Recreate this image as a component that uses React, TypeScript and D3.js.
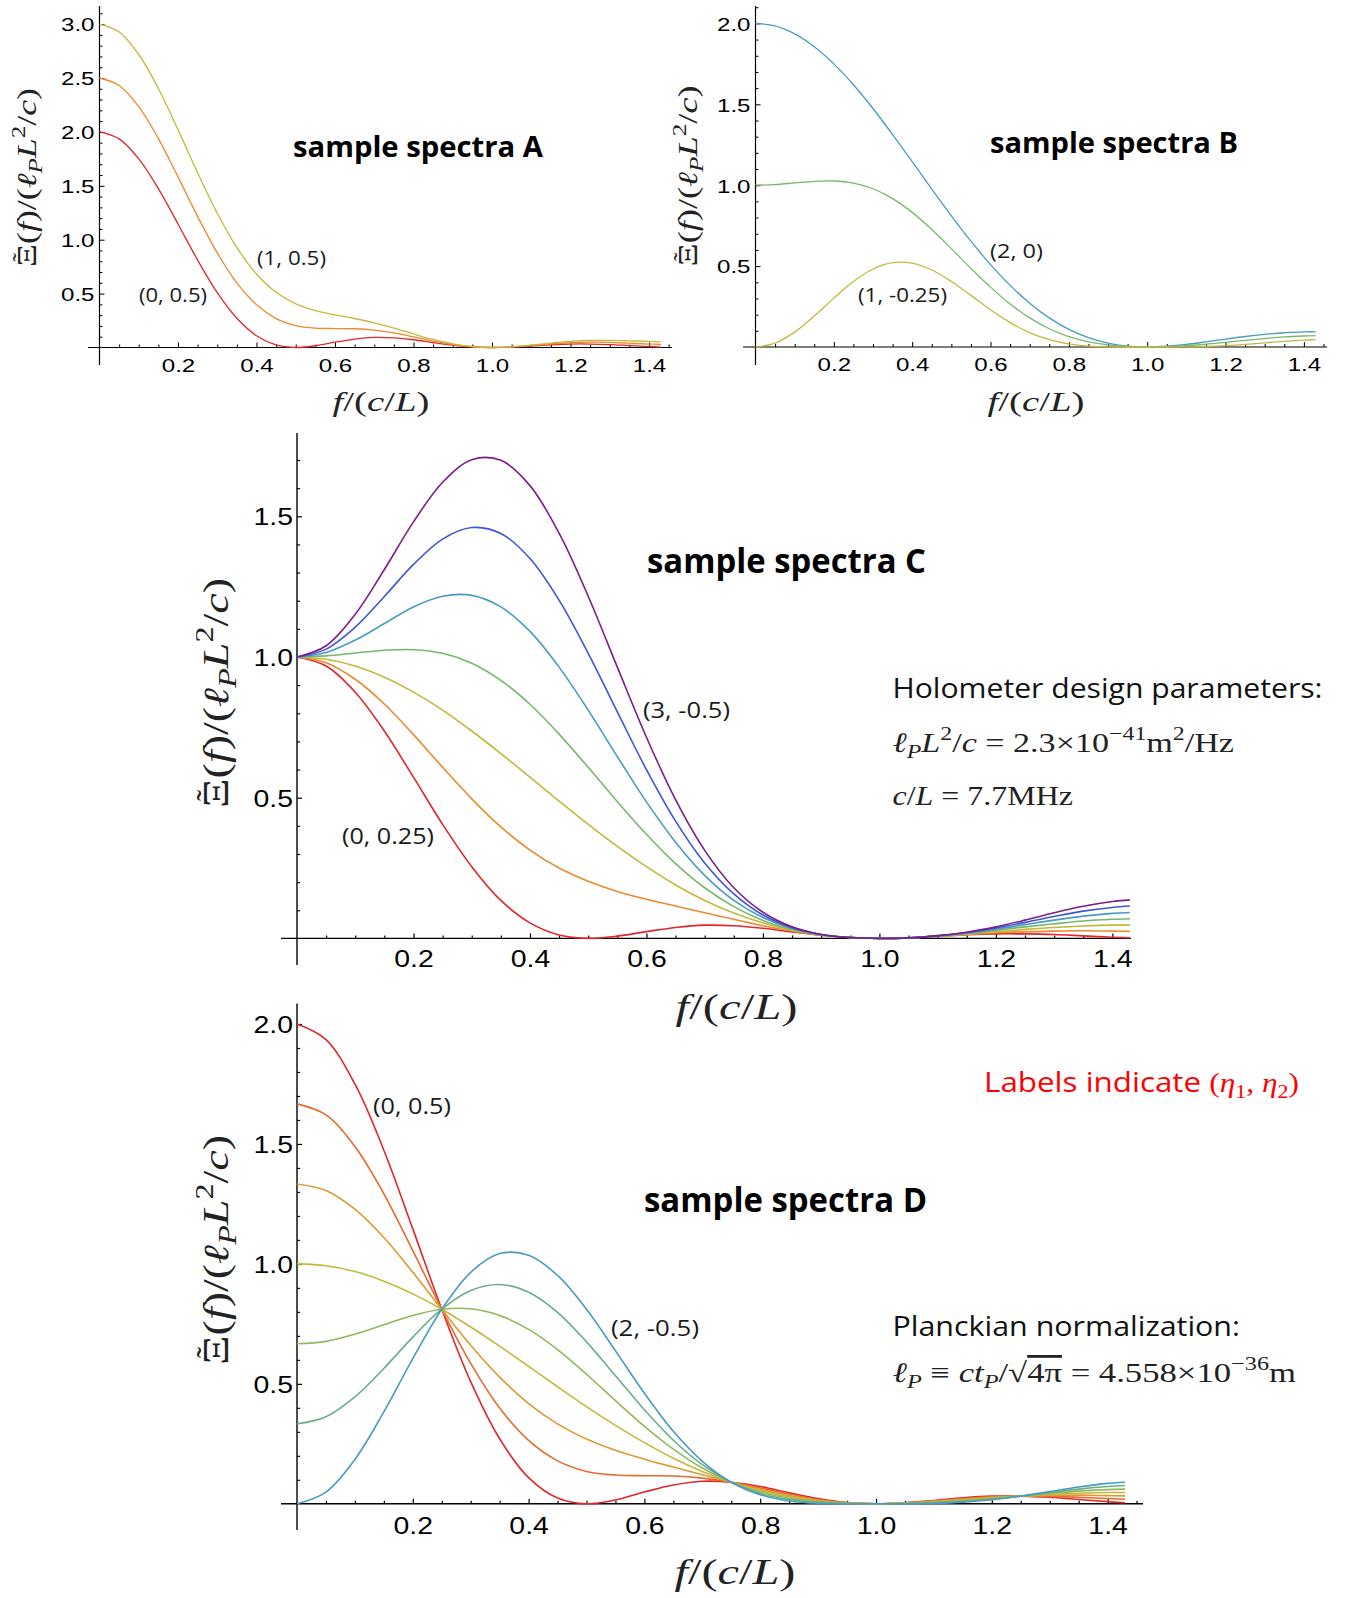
import React, { useEffect, useRef } from 'react';
import * as d3 from 'd3';

const W = 1351;
const H = 1598;

// frequency samples, f / (c/L)
const FREQ = [0, 0.05, 0.1, 0.15, 0.2, 0.25, 0.3, 0.35, 0.4, 0.45, 0.5, 0.55, 0.6, 0.65, 0.7,
  0.75, 0.8, 0.85, 0.9, 0.95, 1.0, 1.05, 1.1, 1.15, 1.2, 1.25, 1.3, 1.35, 1.4, 1.43];

// sample spectra A  (eta1, eta2) = (0,0.5) (0.5,0.5) (1,0.5)
const A_0 = [2.000, 1.935, 1.750, 1.474, 1.146, 0.811, 0.509, 0.271, 0.109, 0.024, 0.000, 0.016, 0.049, 0.078, 0.094,
  0.090, 0.072, 0.046, 0.022, 0.005, 0.000, 0.004, 0.014, 0.025, 0.032, 0.032, 0.027, 0.018, 0.009, 0.004];
const A_05 = [2.500, 2.431, 2.234, 1.938, 1.583, 1.216, 0.878, 0.599, 0.396, 0.268, 0.203, 0.179, 0.176, 0.174, 0.161,
  0.135, 0.099, 0.060, 0.028, 0.007, 0.000, 0.006, 0.018, 0.033, 0.044, 0.049, 0.047, 0.040, 0.032, 0.028];
const A_1 = [3.000, 2.927, 2.718, 2.402, 2.021, 1.621, 1.246, 0.927, 0.682, 0.512, 0.405, 0.343, 0.303, 0.269, 0.229,
  0.180, 0.126, 0.075, 0.034, 0.008, 0.000, 0.007, 0.022, 0.041, 0.056, 0.065, 0.066, 0.062, 0.056, 0.052];

// sample spectra B  (2,0) (1.5,-0.125) (1,-0.25)
const B_2 = [2.000, 1.984, 1.935, 1.856, 1.750, 1.621, 1.474, 1.313, 1.146, 0.976, 0.811, 0.654, 0.509, 0.381, 0.271,
  0.180, 0.109, 0.058, 0.024, 0.006, 0.000, 0.005, 0.016, 0.032, 0.049, 0.065, 0.078, 0.088, 0.094, 0.094];
const B_15 = [1.000, 1.004, 1.014, 1.024, 1.026, 1.013, 0.978, 0.917, 0.832, 0.726, 0.608, 0.486, 0.370, 0.266, 0.180,
  0.113, 0.064, 0.032, 0.013, 0.003, 0.000, 0.002, 0.008, 0.017, 0.029, 0.041, 0.052, 0.062, 0.068, 0.070];
const B_1 = [0.000, 0.024, 0.092, 0.191, 0.302, 0.405, 0.482, 0.521, 0.518, 0.476, 0.405, 0.319, 0.230, 0.151, 0.089,
  0.045, 0.019, 0.006, 0.001, 0.000, 0.000, 0.000, 0.001, 0.003, 0.008, 0.016, 0.026, 0.035, 0.042, 0.045];

// sample spectra C  (0,0.25) ... (3,-0.5)
const C_0 = [1.000, 0.968, 0.875, 0.737, 0.573, 0.405, 0.255, 0.135, 0.055, 0.012, 0.000, 0.008, 0.024, 0.039, 0.047,
  0.045, 0.036, 0.023, 0.011, 0.003, 0.000, 0.002, 0.007, 0.013, 0.016, 0.016, 0.014, 0.009, 0.004, 0.002];
const C_05 = [1.000, 0.980, 0.921, 0.833, 0.724, 0.608, 0.496, 0.396, 0.314, 0.250, 0.203, 0.167, 0.139, 0.115, 0.091,
  0.068, 0.045, 0.026, 0.011, 0.003, 0.000, 0.002, 0.008, 0.014, 0.020, 0.024, 0.026, 0.027, 0.026, 0.025];
const C_1 = [1.000, 0.992, 0.968, 0.928, 0.875, 0.811, 0.737, 0.657, 0.573, 0.488, 0.405, 0.327, 0.255, 0.190, 0.135,
  0.090, 0.055, 0.029, 0.012, 0.003, 0.000, 0.002, 0.008, 0.016, 0.024, 0.032, 0.039, 0.044, 0.047, 0.047];
const C_15 = [1.000, 1.004, 1.014, 1.024, 1.026, 1.013, 0.978, 0.917, 0.832, 0.726, 0.608, 0.486, 0.370, 0.266, 0.180,
  0.113, 0.064, 0.032, 0.013, 0.003, 0.000, 0.002, 0.008, 0.017, 0.029, 0.041, 0.052, 0.062, 0.068, 0.070];
const C_2 = [1.000, 1.016, 1.060, 1.119, 1.178, 1.216, 1.219, 1.178, 1.091, 0.964, 0.811, 0.646, 0.485, 0.342, 0.224,
  0.135, 0.074, 0.035, 0.013, 0.003, 0.000, 0.002, 0.009, 0.019, 0.033, 0.049, 0.065, 0.079, 0.089, 0.092];
const C_25 = [1.000, 1.028, 1.106, 1.215, 1.329, 1.419, 1.460, 1.439, 1.350, 1.202, 1.013, 0.805, 0.600, 0.417, 0.268,
  0.158, 0.083, 0.038, 0.014, 0.003, 0.000, 0.002, 0.009, 0.021, 0.037, 0.057, 0.078, 0.097, 0.110, 0.115];
const C_3 = [1.000, 1.040, 1.152, 1.311, 1.480, 1.621, 1.701, 1.699, 1.609, 1.440, 1.216, 0.964, 0.715, 0.493, 0.313,
  0.180, 0.093, 0.041, 0.014, 0.003, 0.000, 0.002, 0.010, 0.022, 0.041, 0.065, 0.091, 0.114, 0.131, 0.137];

// sample spectra D  (0,0.5) ... (2,-0.5)
const D_0 = [2.000, 1.935, 1.750, 1.474, 1.146, 0.811, 0.509, 0.271, 0.109, 0.024, 0.000, 0.016, 0.049, 0.078, 0.094,
  0.090, 0.072, 0.046, 0.022, 0.005, 0.000, 0.004, 0.014, 0.025, 0.032, 0.032, 0.027, 0.018, 0.009, 0.004];
const D_1 = [1.667, 1.621, 1.489, 1.292, 1.055, 0.811, 0.585, 0.399, 0.264, 0.179, 0.135, 0.120, 0.117, 0.116, 0.107,
  0.090, 0.066, 0.040, 0.018, 0.004, 0.000, 0.004, 0.012, 0.022, 0.029, 0.032, 0.031, 0.027, 0.022, 0.019];
const D_2 = [1.333, 1.306, 1.228, 1.110, 0.965, 0.811, 0.661, 0.528, 0.418, 0.333, 0.270, 0.223, 0.186, 0.153, 0.121,
  0.090, 0.060, 0.035, 0.015, 0.004, 0.000, 0.003, 0.010, 0.019, 0.027, 0.032, 0.035, 0.036, 0.034, 0.033];
const D_3 = [1.000, 0.992, 0.968, 0.928, 0.875, 0.811, 0.737, 0.657, 0.573, 0.488, 0.405, 0.327, 0.255, 0.190, 0.135,
  0.090, 0.055, 0.029, 0.012, 0.003, 0.000, 0.002, 0.008, 0.016, 0.024, 0.032, 0.039, 0.044, 0.047, 0.047];
const D_4 = [0.667, 0.677, 0.707, 0.746, 0.785, 0.811, 0.813, 0.785, 0.727, 0.643, 0.540, 0.430, 0.323, 0.228, 0.149,
  0.090, 0.049, 0.023, 0.009, 0.002, 0.000, 0.002, 0.006, 0.013, 0.022, 0.032, 0.043, 0.053, 0.059, 0.061];
const D_5 = [0.333, 0.363, 0.446, 0.564, 0.695, 0.811, 0.889, 0.914, 0.882, 0.798, 0.675, 0.534, 0.392, 0.265, 0.163,
  0.090, 0.043, 0.018, 0.006, 0.001, 0.000, 0.001, 0.004, 0.010, 0.019, 0.032, 0.047, 0.061, 0.072, 0.076];
const D_6 = [0.000, 0.049, 0.185, 0.383, 0.605, 0.811, 0.965, 1.043, 1.036, 0.952, 0.811, 0.638, 0.461, 0.302, 0.177,
  0.090, 0.038, 0.012, 0.002, 0.000, 0.000, 0.000, 0.002, 0.007, 0.017, 0.032, 0.051, 0.070, 0.085, 0.090];

// eta1 of each curve (sets its colour)
const ETA1_A = [0, 0.5, 1];
const ETA1_B = [2, 1.5, 1];
const ETA1_C = [0, 0.5, 1, 1.5, 2, 2.5, 3];
const ETA1_D = [0, 1 / 3, 2 / 3, 1, 4 / 3, 5 / 3, 2];

// tick labels
const X_TICKS = [0.2, 0.4, 0.6, 0.8, 1.0, 1.2, 1.4];
const Y_TICKS_A = [0.5, 1.0, 1.5, 2.0, 2.5, 3.0];
const Y_TICKS_B = [0.5, 1.0, 1.5, 2.0];
const Y_TICKS_C = [0.5, 1.0, 1.5];
const Y_TICKS_D = [0.5, 1.0, 1.5, 2.0];

// rainbow palette along eta1
const ETA_STOPS = [0, 0.5, 1, 1.5, 2, 2.5, 3];
const RAINBOW = ['#e2262a', '#eb8a2e', '#c4b83c', '#78b86c', '#4a9bc0', '#3f55d8', '#7a1e8a'];
const rainbow = d3.scaleLinear<string>().domain(ETA_STOPS).range(RAINBOW).interpolate(d3.interpolateRgb);

const SANS = "'Open Sans', 'Noto Sans', sans-serif";
const TICKFONT = "'Liberation Sans', Arial, sans-serif";
const SERIF = "'Liberation Serif', 'DejaVu Serif', serif";

const zip = (etas, series) => etas.map((e, i) => ({ eta1: e, v: series[i] }));

const PANELS = [
  {
    id: 'A', curves: zip(ETA1_A, [A_0, A_05, A_1]), yTicks: Y_TICKS_A,
    x0: 99.5, kx: 392.5, y0: 347.5, ky: 107.8, top: 6, left: 88, right: 672, bottom: 365,
    tickFs: 19, tickW: 33.5, xLabDy: 24, yLabDx: 5, lw: 1.3, aw: 1.2,
    title: { x: 293, y: 157, w: 250, fs: 28 },
    yLab: { x: 36, y: 177.5, w: 179, fs: 27 },
    xLab: { x: 381, y: 411, w: 97, fs: 27 },
    notes: [{ t: '(1, 0.5)', x: 257, y: 265, w: 69, fs: 20 }, { t: '(0, 0.5)', x: 139, y: 302, w: 68, fs: 20 }],
  },
  {
    id: 'B', curves: zip(ETA1_B, [B_2, B_15, B_1]), yTicks: Y_TICKS_B,
    x0: 755.5, kx: 391.7, y0: 347, ky: 161.8, top: 6, left: 743, right: 1327, bottom: 365,
    tickFs: 19, tickW: 33.5, xLabDy: 24, yLabDx: 5, lw: 1.3, aw: 1.2,
    title: { x: 990, y: 153, w: 248, fs: 28 },
    yLab: { x: 697, y: 176, w: 181, fs: 27 },
    xLab: { x: 1036, y: 411, w: 97, fs: 27 },
    notes: [{ t: '(2, 0)', x: 990, y: 258, w: 53, fs: 20 }, { t: '(1, -0.25)', x: 858, y: 302, w: 89, fs: 20 }],
  },
  {
    id: 'C', curves: zip(ETA1_C, [C_0, C_05, C_1, C_15, C_2, C_25, C_3]), yTicks: Y_TICKS_C,
    x0: 297, kx: 582.4, y0: 938.4, ky: 281.4, top: 433, left: 281, right: 1131, bottom: 965,
    tickFs: 23.5, tickW: 39.5, xLabDy: 29, yLabDx: 4, lw: 1.6, aw: 1.4,
    title: { x: 647, y: 573, w: 279, fs: 34 },
    yLab: { x: 228, y: 693, w: 230, fs: 35 },
    xLab: { x: 736.6, y: 1019, w: 122, fs: 35 },
    notes: [{ t: '(3, -0.5)', x: 643, y: 718, w: 87, fs: 22.5 }, { t: '(0, 0.25)', x: 342, y: 844, w: 92, fs: 22.5 }],
  },
  {
    id: 'D', curves: zip(ETA1_D, [D_0, D_1, D_2, D_3, D_4, D_5, D_6]), yTicks: Y_TICKS_D,
    x0: 297, kx: 579, y0: 1503.8, ky: 239.9, top: 1003.6, left: 281, right: 1143, bottom: 1530,
    tickFs: 23.5, tickW: 39.5, xLabDy: 30, yLabDx: 4, lw: 1.6, aw: 1.4,
    title: { x: 644, y: 1212, w: 283, fs: 34 },
    yLab: { x: 228, y: 1250, w: 230, fs: 35 },
    xLab: { x: 735, y: 1584, w: 121, fs: 35 },
    notes: [{ t: '(0, 0.5)', x: 373, y: 1114, w: 78, fs: 22.5 }, { t: '(2, -0.5)', x: 611, y: 1336, w: 88, fs: 22.5 }],
  },
];

// runs of math text: i = italic, sub / sup = shifted small, over = overline
function addRuns(text, runs, fs) {
  let shift = 0;
  runs.forEach((r) => {
    const target = r.sub ? 0.22 * fs : r.sup ? -0.42 * fs : 0;
    const ts = text.append('tspan').text(r.t);
    if (target !== shift) {
      ts.attr('dy', target - shift);
      shift = target;
    }
    if (r.sub || r.sup) ts.attr('font-size', 0.7 * fs);
    if (r.i) ts.attr('font-style', 'italic');
    if (r.font) ts.attr('font-family', r.font);
    if (r.over) ts.style('text-decoration', 'overline');
  });
}

const Y_LABEL_RUNS = [
  { t: 'Ξ' }, { t: '(' }, { t: 'f', i: true }, { t: ')/(' }, { t: 'ℓ', i: true }, { t: 'P', i: true, sub: true },
  { t: 'L', i: true }, { t: '2', sup: true }, { t: '/' }, { t: 'c', i: true }, { t: ')' },
];
const X_LABEL_RUNS = [{ t: 'f', i: true }, { t: '/(' }, { t: 'c', i: true }, { t: '/' }, { t: 'L', i: true }, { t: ')' }];

function drawPanel(svg, p) {
  const x = d3.scaleLinear().domain([0, 1]).range([p.x0, p.x0 + p.kx]);
  const y = d3.scaleLinear().domain([0, 1]).range([p.y0, p.y0 - p.ky]);
  const g = svg.append('g').attr('class', `panel panel-${p.id}`);
  const fMax = x.invert(p.right);
  const vMax = y.invert(p.top);

  // axis lines, Mathematica style (crossing past the origin)
  g.append('line').attr('x1', p.left).attr('x2', p.right).attr('y1', p.y0).attr('y2', p.y0)
    .attr('stroke', '#000').attr('stroke-width', p.aw);
  g.append('line').attr('x1', p.x0).attr('x2', p.x0).attr('y1', p.top).attr('y2', p.bottom)
    .attr('stroke', '#000').attr('stroke-width', p.aw);

  const minorX = d3.range(0.05, fMax, 0.05).filter((v) => !X_TICKS.some((t) => Math.abs(t - v) < 1e-6));
  const minorY = d3.range(0.1, vMax, 0.1).filter((v) => !p.yTicks.some((t) => Math.abs(t - v) < 1e-6));

  const xMinor = g.append('g').attr('transform', `translate(0, ${p.y0})`)
    .call(d3.axisBottom(x).tickValues(minorX).tickSizeInner(-3).tickSizeOuter(0).tickFormat(() => ''));
  const xMajor = g.append('g').attr('transform', `translate(0, ${p.y0})`)
    .call(d3.axisBottom(x).tickValues(X_TICKS).tickSizeInner(-5).tickSizeOuter(0).tickFormat(d3.format('.1f')));
  const yMinor = g.append('g').attr('transform', `translate(${p.x0}, 0)`)
    .call(d3.axisLeft(y).tickValues(minorY).tickSizeInner(-3).tickSizeOuter(0).tickFormat(() => ''));
  const yMajor = g.append('g').attr('transform', `translate(${p.x0}, 0)`)
    .call(d3.axisLeft(y).tickValues(p.yTicks).tickSizeInner(-5).tickSizeOuter(0).tickPadding(p.yLabDx).tickFormat(d3.format('.1f')));

  [xMinor, xMajor, yMinor, yMajor].forEach((a) => {
    a.select('.domain').remove();
    a.selectAll('.tick line').attr('stroke', '#000').attr('stroke-width', p.aw * 0.85);
  });
  xMajor.selectAll('.tick text')
    .attr('y', p.xLabDy).attr('dy', null)
    .attr('font-family', TICKFONT).attr('font-size', p.tickFs).attr('fill', '#000')
    .attr('textLength', p.tickW).attr('lengthAdjust', 'spacingAndGlyphs');
  yMajor.selectAll('.tick text')
    .attr('dy', '0.36em')
    .attr('font-family', TICKFONT).attr('font-size', p.tickFs).attr('fill', '#000')
    .attr('textLength', p.tickW).attr('lengthAdjust', 'spacingAndGlyphs');

  // spectra
  const line = d3.line<number>()
    .x((_, i) => x(FREQ[i]))
    .y((d) => y(d))
    .curve(d3.curveCatmullRom.alpha(0.5));
  g.selectAll('path.curve')
    .data(p.curves)
    .join('path')
    .attr('class', 'curve')
    .attr('d', (c) => line(c.v))
    .attr('fill', 'none')
    .attr('stroke', (c) => rainbow(c.eta1))
    .attr('stroke-width', p.lw);

  // title
  g.append('text')
    .attr('x', p.title.x).attr('y', p.title.y)
    .attr('font-family', SANS).attr('font-weight', 700).attr('font-size', p.title.fs)
    .attr('textLength', p.title.w).attr('lengthAdjust', 'spacingAndGlyphs')
    .text(`sample spectra ${p.id}`);

  // curve labels
  p.notes.forEach((n) => {
    g.append('text')
      .attr('x', n.x).attr('y', n.y)
      .attr('font-family', SANS).attr('font-size', n.fs).attr('fill', '#1a1a1a')
      .attr('textLength', n.w).attr('lengthAdjust', 'spacingAndGlyphs')
      .text(n.t);
  });

  // y axis title, rotated, with a tilde over the Xi
  const fs = p.yLab.fs;
  const yg = g.append('g').attr('transform', `translate(${p.yLab.x}, ${p.yLab.y}) rotate(-90)`);
  const yl = yg.append('text')
    .attr('x', -p.yLab.w / 2).attr('y', 0)
    .attr('font-family', SERIF).attr('font-size', fs).attr('fill', '#222')
    .attr('textLength', p.yLab.w).attr('lengthAdjust', 'spacingAndGlyphs');
  addRuns(yl, Y_LABEL_RUNS, fs);
  yg.append('text')
    .attr('x', -p.yLab.w / 2 + 0.36 * fs).attr('y', -0.22 * fs)
    .attr('text-anchor', 'middle')
    .attr('font-family', SERIF).attr('font-size', fs * 0.95).attr('fill', '#222')
    .text('˜');

  const xl = g.append('text')
    .attr('x', p.xLab.x).attr('y', p.xLab.y)
    .attr('text-anchor', 'middle')
    .attr('font-family', SERIF).attr('font-size', p.xLab.fs).attr('fill', '#222')
    .attr('textLength', p.xLab.w).attr('lengthAdjust', 'spacingAndGlyphs');
  addRuns(xl, X_LABEL_RUNS, p.xLab.fs);
}

const SIDE_NOTES = [
  { x: 892.5, y: 698, w: 430, fs: 28, font: SANS, fill: '#111', runs: [{ t: 'Holometer design parameters:' }] },
  {
    x: 892.5, y: 752, w: 341.5, fs: 28, font: SERIF, fill: '#222', runs: [
      { t: 'ℓ', i: true }, { t: 'P', i: true, sub: true }, { t: 'L', i: true }, { t: '2', sup: true }, { t: '/' },
      { t: 'c', i: true }, { t: ' = 2.3×10' }, { t: '−41', sup: true }, { t: 'm' }, { t: '2', sup: true }, { t: '/Hz' },
    ],
  },
  {
    x: 892.5, y: 805, w: 180.5, fs: 28, font: SERIF, fill: '#222', runs: [
      { t: 'c', i: true }, { t: '/' }, { t: 'L', i: true }, { t: ' = 7.7MHz' },
    ],
  },
  {
    x: 984, y: 1092, w: 315, fs: 28, font: SANS, fill: '#ff0000', runs: [
      { t: 'Labels indicate ' }, { t: '(', font: SERIF }, { t: 'η', i: true, font: SERIF }, { t: '1', sub: true, font: SERIF },
      { t: ', ', font: SERIF }, { t: 'η', i: true, font: SERIF }, { t: '2', sub: true, font: SERIF }, { t: ')', font: SERIF },
    ],
  },
  { x: 892.5, y: 1336, w: 347.5, fs: 28, font: SANS, fill: '#111', runs: [{ t: 'Planckian normalization:' }] },
  {
    x: 892.5, y: 1382, w: 403.5, fs: 28, font: SERIF, fill: '#222', runs: [
      { t: 'ℓ', i: true }, { t: 'P', i: true, sub: true }, { t: ' ≡ ' }, { t: 'ct', i: true }, { t: 'P', i: true, sub: true },
      { t: '/√' }, { t: '4π', over: true }, { t: ' = 4.558×10' }, { t: '−36', sup: true }, { t: 'm' },
    ],
  },
];

export default function App() {
  const ref = useRef<SVGSVGElement>(null);

  useEffect(() => {
    const svg = d3.select(ref.current);
    svg.selectAll('*').remove();
    svg.append('rect').attr('width', W).attr('height', H).attr('fill', '#fff');

    PANELS.forEach((p) => drawPanel(svg, p));

    SIDE_NOTES.forEach((n) => {
      const t = svg.append('text')
        .attr('x', n.x).attr('y', n.y)
        .attr('font-family', n.font).attr('font-size', n.fs).attr('fill', n.fill)
        .attr('textLength', n.w).attr('lengthAdjust', 'spacingAndGlyphs');
      addRuns(t, n.runs, n.fs);
    });
  }, []);

  return (
    <svg
      ref={ref}
      width={W}
      height={H}
      style={{ position: 'absolute', left: 0, top: 0, display: 'block' }}
    />
  );
}
